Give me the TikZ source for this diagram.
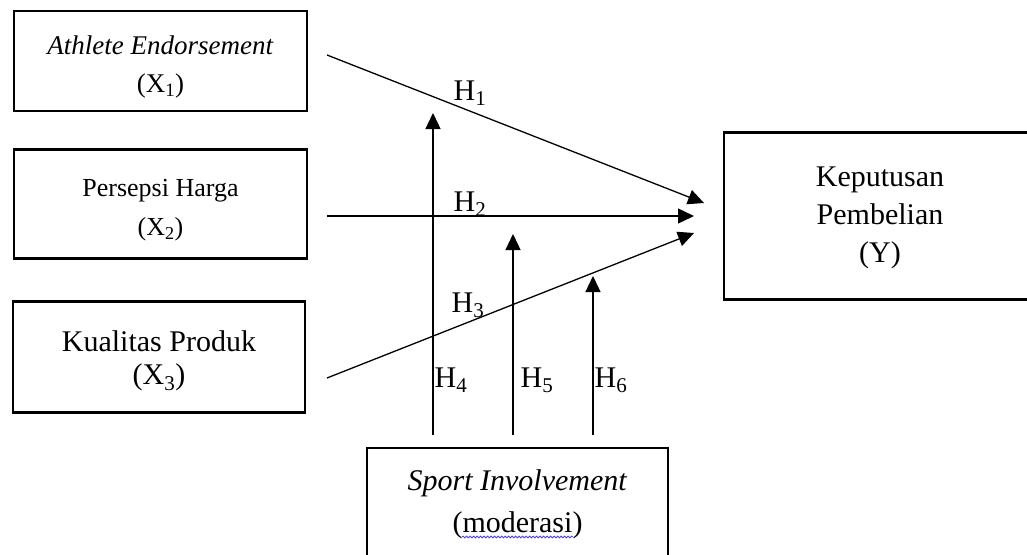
\documentclass[tikz,border=0pt]{standalone}
\usepackage{fontspec}
\setmainfont{Liberation Serif}
\usetikzlibrary{arrows.meta,decorations.pathmorphing}
\begin{document}
\begin{tikzpicture}[x=1pt,y=-1pt,
  box/.style={draw,line width=2.3pt,rectangle,inner sep=0pt},
  txt/.style={align=center,inner sep=0pt},
  conn/.style={line width=1.3pt,-{Triangle[length=16pt,width=15pt]}},
  hlab/.style={font=\fontsize{30}{36}\selectfont,inner sep=0pt}]
\clip (0,0) rectangle (1027,554);
\fill[white] (0,0) rectangle (1027,554);
% boxes
\node[box,minimum width=293pt,minimum height=100pt] (x1) at (160.5,61) {};
\node[txt,font=\fontsize{27}{38}\selectfont] (x1t) at (160.5,67)
  {\textit{Athlete Endorsement}\\(X\textsubscript{1})};
\node[box,minimum width=293pt,minimum height=109pt] (x2) at (160.5,204) {};
\node[txt,font=\fontsize{26}{39}\selectfont] (x2t) at (160.5,210)
  {Persepsi Harga\\(X\textsubscript{2})};
\node[box,minimum width=292pt,minimum height=111pt] (x3) at (159,357) {};
\node[txt,font=\fontsize{30}{33}\selectfont] (x3t) at (159,361)
  {Kualitas Produk\\(X\textsubscript{3})};
\node[box,minimum width=312pt,minimum height=167pt] (y) at (880,216) {};
\node[txt,font=\fontsize{30}{38}\selectfont] (yt) at (880,218)
  {Keputusan\\Pembelian\\(Y)};
\node[box,minimum width=301pt,minimum height=110pt] (m) at (517.5,503) {};
\node[txt,font=\fontsize{30}{42}\selectfont] (mt) at (517.5,504)
  {\textit{Sport Involvement}\\(moderasi)};
\draw[blue!75,line width=0.8pt,decorate,decoration={snake,amplitude=0.9pt,segment length=3.5pt}] (462,537) -- (573,537);
% connector end points
\coordinate (h1s) at (327,55);  \coordinate (h1e) at (704,203);
\coordinate (h2s) at (327,216); \coordinate (h2e) at (694,216);
\coordinate (h3s) at (327,378); \coordinate (h3e) at (694,233);
\coordinate (h4s) at (433,435); \coordinate (h4e) at (433,113);
\coordinate (h5s) at (513,435); \coordinate (h5e) at (513,234);
\coordinate (h6s) at (593,435); \coordinate (h6e) at (593,276);
\draw[conn] (h1s) -- (h1e);
\draw[conn] (h2s) -- (h2e);
\draw[conn] (h3s) -- (h3e);
\draw[conn] (h4s) -- (h4e);
\draw[conn] (h5s) -- (h5e);
\draw[conn] (h6s) -- (h6e);
% labels
\node[hlab] (l1) at (470,93) {H\textsubscript{1}};
\node[hlab] (l2) at (470,204) {H\textsubscript{2}};
\node[hlab] (l3) at (468,305) {H\textsubscript{3}};
\node[hlab] (l4) at (451,380) {H\textsubscript{4}};
\node[hlab] (l5) at (537,380) {H\textsubscript{5}};
\node[hlab] (l6) at (611,380) {H\textsubscript{6}};
\end{tikzpicture}
\end{document}
